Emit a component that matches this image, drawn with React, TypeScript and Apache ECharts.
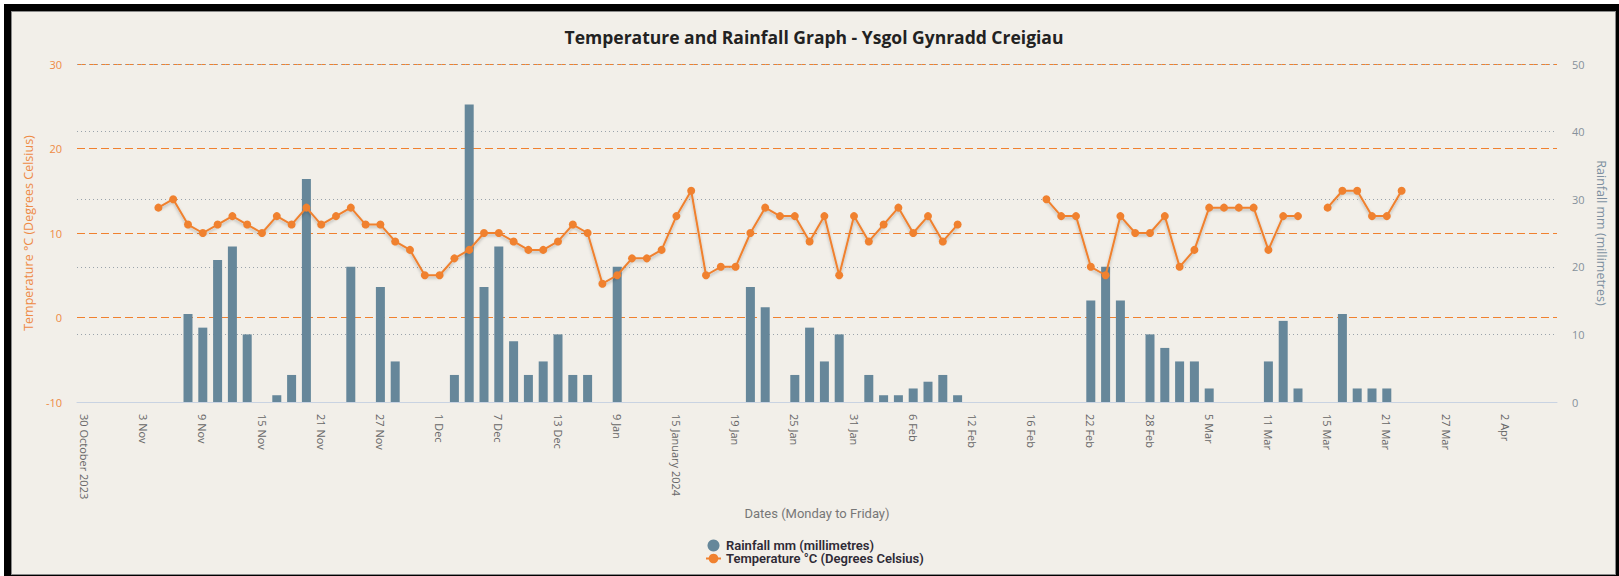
import React, { useEffect, useRef } from "react";
import * as echarts from "echarts";

const categories: string[] = [
  "30 October 2023", "31 Oct", "1 Nov", "2 Nov", "3 Nov", "6 Nov", "7 Nov", "8 Nov", "9 Nov", "10 Nov",
  "13 Nov", "14 Nov", "15 Nov", "16 Nov", "17 Nov", "20 Nov", "21 Nov", "22 Nov", "23 Nov", "24 Nov",
  "27 Nov", "28 Nov", "29 Nov", "30 Nov", "1 Dec", "4 Dec", "5 Dec", "6 Dec", "7 Dec", "8 Dec",
  "11 Dec", "12 Dec", "13 Dec", "14 Dec", "15 Dec", "8 Jan", "9 Jan", "10 Jan", "11 Jan", "12 Jan",
  "15 January 2024", "16 Jan", "17 Jan", "18 Jan", "19 Jan", "22 Jan", "23 Jan", "24 Jan", "25 Jan", "26 Jan",
  "29 Jan", "30 Jan", "31 Jan", "1 Feb", "2 Feb", "5 Feb", "6 Feb", "7 Feb", "8 Feb", "9 Feb",
  "12 Feb", "13 Feb", "14 Feb", "15 Feb", "16 Feb", "19 Feb", "20 Feb", "21 Feb", "22 Feb", "23 Feb",
  "26 Feb", "27 Feb", "28 Feb", "29 Feb", "1 Mar", "4 Mar", "5 Mar", "6 Mar", "7 Mar", "8 Mar",
  "11 Mar", "12 Mar", "13 Mar", "14 Mar", "15 Mar", "18 Mar", "19 Mar", "20 Mar", "21 Mar", "22 Mar",
  "25 Mar", "26 Mar", "27 Mar", "28 Mar", "29 Mar", "1 Apr", "2 Apr", "3 Apr", "4 Apr", "5 Apr",
];

const rainfall: (number | null)[] = [
  null, null, null, null, null, null, null, 13, 11, 21,
  23, 10, null, 1, 4, 33, null, null, 20, null,
  17, 6, null, null, null, 4, 44, 17, 23, 9,
  4, 6, 10, 4, 4, null, 20, null, null, null,
  null, null, null, null, null, 17, 14, null, 4, 11,
  6, 10, null, 4, 1, 1, 2, 3, 4, 1,
  null, null, null, null, null, null, null, null, 15, 20,
  15, null, 10, 8, 6, 6, 2, null, null, null,
  6, 12, 2, null, null, 13, 2, 2, 2, null,
  null, null, null, null, null, null, null, null, null, null,
];

const temperature: (number | null)[] = [
  null, null, null, null, null, 13, 14, 11, 10, 11,
  12, 11, 10, 12, 11, 13, 11, 12, 13, 11,
  11, 9, 8, 5, 5, 7, 8, 10, 10, 9,
  8, 8, 9, 11, 10, 4, 5, 7, 7, 8,
  12, 15, 5, 6, 6, 10, 13, 12, 12, 9,
  12, 5, 12, 9, 11, 13, 10, 12, 9, 11,
  null, null, null, null, null, 14, 12, 12, 6, 5,
  12, 10, 10, 12, 6, 8, 13, 13, 13, 13,
  8, 12, 12, null, 13, 15, 15, 12, 12, 15,
  null, null, null, null, null, null, null, null, null, null,
];

const RAIN_NAME = "Rainfall mm (millimetres)";
const TEMP_NAME = "Temperature °C (Degrees Celsius)";
const FONT = "'Open Sans', Roboto, sans-serif";
const LEGEND_FONT = "Roboto, 'Noto Sans', sans-serif";
const ORANGE = "#f0812f";
const BAR = "#66879a";

export default function App() {
  const ref = useRef<HTMLDivElement>(null);

  useEffect(() => {
    document.body.style.margin = "0";
    if (!ref.current) return;
    const chart = echarts.init(ref.current, undefined, { renderer: "svg" });
    chart.setOption({
      animation: false,
      backgroundColor: "transparent",
      textStyle: { fontFamily: FONT },
      title: {
        text: "Temperature and Rainfall Graph - Ysgol Gynradd Creigiau",
        left: 809,
        textAlign: "center",
        top: 23,
        textStyle: { fontSize: 17.5, fontWeight: "bold", color: "#222", fontFamily: FONT },
      },
      legend: {
        orient: "vertical",
        left: 700,
        top: 534,
        itemWidth: 15,
        itemHeight: 12,
        itemGap: 0,
        textStyle: { fontSize: 13, fontWeight: 600, color: "#2e2a35", fontFamily: LEGEND_FONT },
        data: [
          { name: RAIN_NAME, icon: "circle" },
          { name: TEMP_NAME },
        ],
      },
      grid: { left: 77, top: 64, width: 1480, height: 338, containLabel: false },
      xAxis: {
        type: "category",
        data: categories,
        boundaryGap: true,
        name: "Dates (Monday to Friday)",
        nameLocation: "middle",
        nameGap: 104,
        nameTextStyle: { fontSize: 13, color: "#777", fontFamily: LEGEND_FONT },
        axisLine: { onZero: false, lineStyle: { color: "#c9d3e2", width: 1 } },
        axisTick: { alignWithLabel: true, interval: 3, length: 7, lineStyle: { color: "#c9d3e2" } },
        axisLabel: { interval: 3, rotate: -90, fontSize: 11, color: "#666", margin: 12, fontFamily: FONT },
        splitLine: { show: false },
      },
      yAxis: [
        {
          type: "value",
          min: -10,
          max: 30,
          interval: 10,
          position: "left",
          name: TEMP_NAME,
          nameLocation: "middle",
          nameGap: 38,
          nameTextStyle: { fontSize: 12.5, color: "#ee8a45", fontFamily: FONT },
          axisLine: { show: false },
          axisTick: { show: false },
          axisLabel: { fontSize: 11, color: "#ee8a45", margin: 15, fontFamily: FONT },
          splitLine: { lineStyle: { color: ORANGE, type: [8, 4], width: 1 } },
        },
        {
          type: "value",
          min: 0,
          max: 50,
          interval: 10,
          position: "right",
          name: RAIN_NAME,
          nameLocation: "middle",
          nameGap: 33,
          nameRotate: -90,
          nameTextStyle: { fontSize: 12.5, color: "#7d8fa0", fontFamily: FONT },
          axisLine: { show: false },
          axisTick: { show: false },
          axisLabel: { fontSize: 11, color: "#86919b", margin: 15, fontFamily: FONT },
          splitLine: { lineStyle: { color: "#9aa3ab", type: [1, 3], width: 1 } },
        },
      ],
      series: [
        {
          name: RAIN_NAME,
          type: "bar",
          yAxisIndex: 1,
          data: rainfall,
          barWidth: 9,
          itemStyle: { color: BAR },
          z: 2,
        },
        {
          name: TEMP_NAME,
          type: "line",
          yAxisIndex: 0,
          data: temperature,
          connectNulls: false,
          symbol: "circle",
          symbolSize: 8,
          itemStyle: { color: ORANGE },
          lineStyle: {
            color: ORANGE,
            width: 2,
            shadowColor: "rgba(0,0,0,0.25)",
            shadowBlur: 3,
            shadowOffsetY: 2,
          },
          z: 3,
        },
      ],
    });
    return () => chart.dispose();
  }, []);

  return (
    <div style={{ position: "absolute", left: 0, top: 0, width: 1619, height: 576, background: "#fff", overflow: "hidden" }}>
      <div style={{ position: "absolute", left: 4, top: 4, width: 1640, height: 600, background: "#000" }} />
      <div
        style={{
          position: "absolute",
          left: 11,
          top: 11,
          width: 1605,
          height: 564,
          background: "#f2efe9",
          border: "1px solid #8a8a8a",
          boxSizing: "border-box",
        }}
      />
      <div ref={ref} style={{ position: "absolute", left: 0, top: 0, width: 1619, height: 576 }} />
    </div>
  );
}
